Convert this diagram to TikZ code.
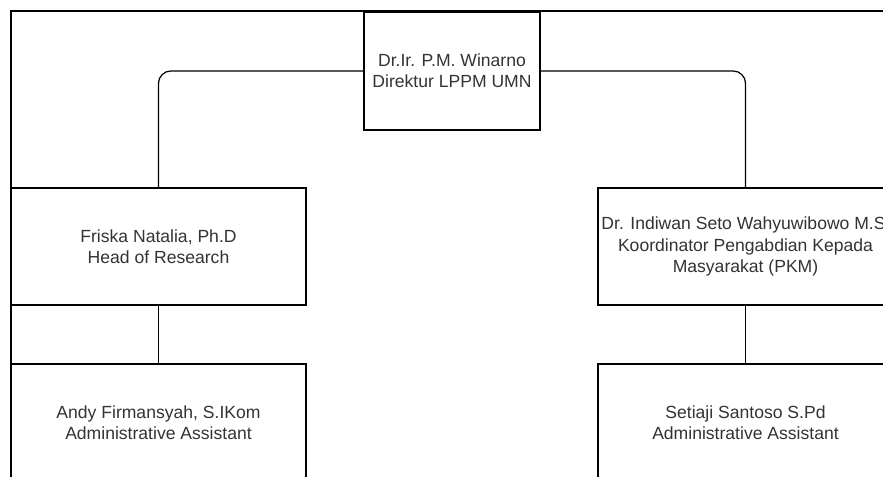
\documentclass[tikz,border=0pt]{standalone}
\usepackage{fontspec}
\setmainfont{Liberation Sans}
\usetikzlibrary{positioning}

\begin{document}
\begin{tikzpicture}[
    x = 0.02cm, y = -0.02cm,
    line width = 0.7pt,
    box/.style = {
      draw,
      fill = white,
      rectangle,
      inner sep = 0pt,
      align = center,
      text = black!80,
      font = \fontsize{10}{12}\selectfont,
      minimum width = 5.9cm,
      minimum height = 2.34cm},
    link/.style = {
      draw,
      rounded corners = 7pt}
  ]
  \useasboundingbox (0,0) rectangle (883,477);
  \clip (0,0) rectangle (883,477);

  % outer frame (runs off the page)
  \coordinate (fa) at (11,500);
  \coordinate (fb) at (11,11);
  \coordinate (fc) at (900,11);
  \draw[line width = 1.1pt] (fa) -- (fb) -- (fc);

  % the boxes
  \node[box, minimum width = 3.52cm, minimum height = 2.36cm] (dir) at (452,71)
    {Dr.Ir. P.M. Winarno\\Direktur LPPM UMN};
  \node[box] (res) at (158.5,246.5)
    {Friska Natalia, Ph.D\\Head of Research};
  \node[box] (pkm) at (745.5,246.5)
    {Dr. Indiwan Seto Wahyuwibowo M.Si\\Koordinator Pengabdian Kepada\\Masyarakat (PKM)};
  \node[box] (admL) at (158.5,422.5)
    {Andy Firmansyah, S.IKom\\Administrative Assistant};
  \node[box] (admR) at (745.5,422.5)
    {Setiaji Santoso S.Pd\\Administrative Assistant};

  % connectors
  \draw[link] (dir.west) -| (res.north);
  \draw[link] (dir.east) -| (pkm.north);
  \draw (res) -- (admL);
  \draw (pkm) -- (admR);

\end{tikzpicture}
\end{document}
